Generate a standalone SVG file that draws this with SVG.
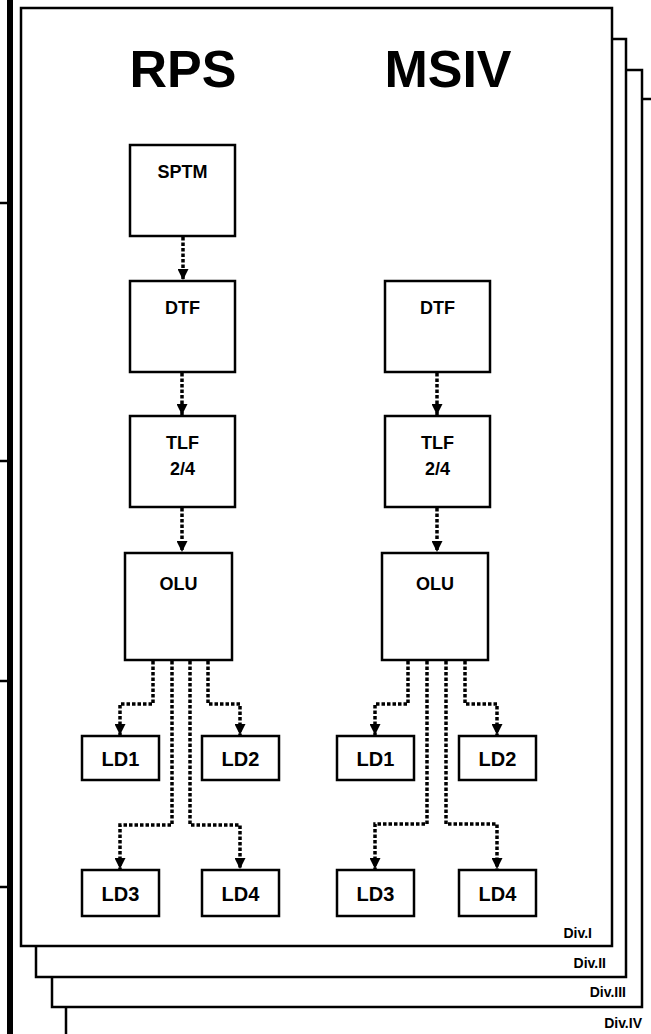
<svg xmlns="http://www.w3.org/2000/svg" width="651" height="1034" viewBox="0 0 651 1034">
<style>
.frame{fill:#fff;stroke:#000;stroke-width:2.5}
.box{fill:#fff;stroke:#000;stroke-width:2.5}
.t{font-family:"Liberation Sans",Arial,sans-serif;font-weight:bold;fill:#000;text-anchor:middle}
.h{font-size:18px}
.ld{font-size:20px}
.title{font-size:52px}
.div{font-family:"Liberation Sans",Arial,sans-serif;font-weight:bold;font-size:14px;text-anchor:end;fill:#000}
.c{fill:none;stroke:#000;stroke-width:3.5;stroke-dasharray:3.5 2;marker-end:url(#ah)}
</style>
<defs>
<marker id="ah" viewBox="0 0 10 10" refX="10" refY="5" markerWidth="12" markerHeight="11" markerUnits="userSpaceOnUse" orient="auto">
<path d="M0,0 L10,5 L0,10 z" fill="#000"/>
</marker>
</defs>
<rect width="651" height="1034" fill="#fff"/>
<g id="margin">
<rect x="7" y="0" width="6" height="1034" fill="#000"/>
<g stroke="#000" stroke-width="2.5">
<line x1="0" y1="203" x2="8" y2="203"/>
<line x1="0" y1="461" x2="8" y2="461"/>
<line x1="0" y1="681" x2="8" y2="681"/>
<line x1="0" y1="887" x2="8" y2="887"/>
</g>
</g>
<g id="div4"><rect class="frame" x="66" y="99" width="700" height="1000"/><text class="div" x="642" y="1028">Div.IV</text></g>
<g id="div3"><rect class="frame" x="52" y="70" width="590" height="937"/><text class="div" x="626" y="997">Div.III</text></g>
<g id="div2"><rect class="frame" x="36" y="39" width="590" height="938"/><text class="div" x="606" y="968">Div.II</text></g>
<g id="div1"><rect class="frame" x="21" y="8" width="591" height="938"/><text class="div" x="592" y="938">Div.I</text></g>
<g id="titles">
<text class="t title" x="183" y="87">RPS</text>
<text class="t title" x="448" y="87">MSIV</text>
</g>
<g id="rps-sptm"><rect class="box" x="130" y="145" width="105" height="91"/><text class="t h" x="182.5" y="178">SPTM</text></g>
<g id="rps-dtf"><rect class="box" x="130" y="281" width="105" height="91"/><text class="t h" x="182.5" y="314">DTF</text></g>
<g id="rps-tlf"><rect class="box" x="130" y="416" width="105" height="91"/><text class="t h" x="182.5" y="449">TLF</text><text class="t h" x="182.5" y="475">2/4</text></g>
<g id="rps-olu"><rect class="box" x="125" y="553" width="107" height="107"/><text class="t h" x="178.5" y="590">OLU</text></g>
<g id="rps-ld1"><rect class="box" x="82" y="736" width="77" height="44"/><text class="t ld" x="120.5" y="766">LD1</text></g>
<g id="rps-ld2"><rect class="box" x="202" y="736" width="77" height="44"/><text class="t ld" x="240.5" y="766">LD2</text></g>
<g id="rps-ld3"><rect class="box" x="82" y="870" width="77" height="46"/><text class="t ld" x="120.5" y="901">LD3</text></g>
<g id="rps-ld4"><rect class="box" x="202" y="870" width="77" height="46"/><text class="t ld" x="240.5" y="901">LD4</text></g>
<g id="msiv-dtf"><rect class="box" x="385" y="281" width="105" height="91"/><text class="t h" x="437.5" y="314">DTF</text></g>
<g id="msiv-tlf"><rect class="box" x="385" y="416" width="105" height="91"/><text class="t h" x="437.5" y="449">TLF</text><text class="t h" x="437.5" y="475">2/4</text></g>
<g id="msiv-olu"><rect class="box" x="382" y="553" width="106" height="107"/><text class="t h" x="435" y="590">OLU</text></g>
<g id="msiv-ld1"><rect class="box" x="337" y="736" width="77" height="44"/><text class="t ld" x="375.5" y="766">LD1</text></g>
<g id="msiv-ld2"><rect class="box" x="459" y="736" width="77" height="44"/><text class="t ld" x="497.5" y="766">LD2</text></g>
<g id="msiv-ld3"><rect class="box" x="337" y="870" width="77" height="46"/><text class="t ld" x="375.5" y="901">LD3</text></g>
<g id="msiv-ld4"><rect class="box" x="459" y="870" width="77" height="46"/><text class="t ld" x="497.5" y="901">LD4</text></g>
<g id="connectors">
<path class="c" d="M183,237 V280"/>
<path class="c" d="M182,373 V415"/>
<path class="c" d="M182,508 V552"/>
<path class="c" d="M153,661 V704 H120 V735"/>
<path class="c" d="M208,661 V704 H240 V735"/>
<path class="c" d="M172,661 V825 H120 V869"/>
<path class="c" d="M190,661 V825 H240 V869"/>
<path class="c" d="M437,373 V415"/>
<path class="c" d="M437,508 V552"/>
<path class="c" d="M408,661 V704 H375 V735"/>
<path class="c" d="M465,661 V704 H497 V735"/>
<path class="c" d="M427,661 V824 H375 V869"/>
<path class="c" d="M446,661 V824 H497 V869"/>
</g>
</svg>
